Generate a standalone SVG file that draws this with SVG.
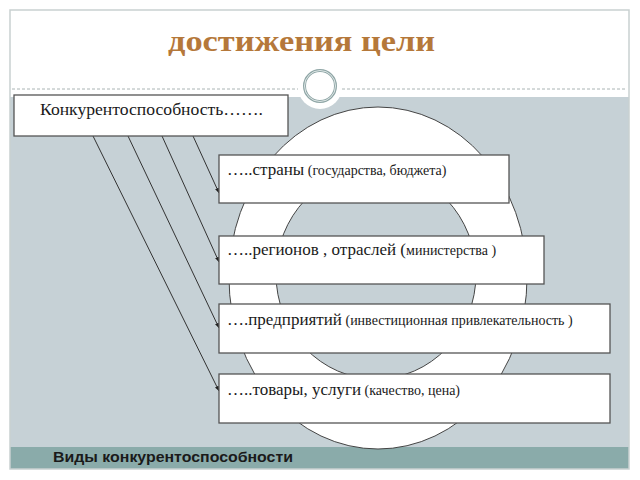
<svg xmlns="http://www.w3.org/2000/svg" width="640" height="480" viewBox="0 0 640 480">
<defs>
<style>
.box{fill:#ffffff;stroke:#555555;stroke-width:1.3}
.big{font-size:17px}
.sm{font-size:14px}
.conn{stroke:#333333;stroke-width:1;fill:none;marker-end:url(#ah)}
</style>
<marker id="ah" viewBox="0 0 10 10" refX="10" refY="5" markerWidth="5" markerHeight="5" orient="auto" markerUnits="userSpaceOnUse">
<path d="M0,1 L10,5 L0,9 z" fill="#222222"/>
</marker>
</defs>
<rect x="0" y="0" width="640" height="480" fill="#ffffff"/>
<g id="slide">
<rect x="10" y="97" width="619" height="350" fill="#c6d1d6"/>
<rect x="10" y="447" width="619" height="22" fill="#8aabaa"/>
<rect x="10" y="10" width="619" height="459" fill="none" stroke="#c9d1d1" stroke-width="1.5"/>
<line x1="12" y1="89" x2="298" y2="89" stroke="#aab4b4" stroke-width="1" stroke-dasharray="3,2"/>
<line x1="342" y1="89" x2="627" y2="89" stroke="#aab4b4" stroke-width="1" stroke-dasharray="3,2"/>
<circle cx="320" cy="87" r="22" fill="#ffffff"/>
<circle cx="320" cy="86" r="15.5" fill="#ffffff" stroke="#8fa6a6" stroke-width="3"/>
<circle cx="320" cy="86" r="15.5" fill="none" stroke="#dfe7e7" stroke-width="1"/>
<text x="168" y="51" font-family="'Liberation Serif','Times New Roman',serif" font-size="30" font-weight="bold" fill="#b5783a" textLength="267" lengthAdjust="spacingAndGlyphs">достижения цели</text>
<text x="53" y="462" font-family="'Liberation Sans',Arial,sans-serif" font-size="15" font-weight="bold" fill="#1a1a1a" textLength="240" lengthAdjust="spacingAndGlyphs">Виды конкурентоспособности</text>
</g>
<g id="ring">
<ellipse cx="378" cy="278" rx="149" ry="171" fill="#ffffff" stroke="#444444" stroke-width="1"/>
<ellipse cx="376" cy="274" rx="100" ry="105" fill="#c6d1d6" stroke="#444444" stroke-width="1"/>
</g>
<g id="connectors">
<line class="conn" x1="193" y1="136" x2="219" y2="193"/>
<line class="conn" x1="162" y1="136" x2="219" y2="262"/>
<line class="conn" x1="128" y1="136" x2="219" y2="328"/>
<line class="conn" x1="93" y1="136" x2="219" y2="391"/>
</g>
<g id="node-main">
<rect class="box" x="14" y="95" width="274" height="41"/>
<text x="40" y="115" font-family="'Liberation Serif','Times New Roman',serif" font-size="17" fill="#1a1a1a" textLength="223" lengthAdjust="spacingAndGlyphs">Конкурентоспособность…….</text>
</g>
<g id="node-country">
<rect class="box" x="219" y="155" width="290" height="48"/>
<text x="227" y="175" font-family="'Liberation Serif','Times New Roman',serif" fill="#1a1a1a"><tspan class="big">…..страны</tspan><tspan class="sm"> (государства, бюджета)</tspan></text>
</g>
<g id="node-region">
<rect class="box" x="219" y="236" width="325" height="48"/>
<text x="227" y="255" font-family="'Liberation Serif','Times New Roman',serif" fill="#1a1a1a"><tspan class="big">…..регионов , отраслей (</tspan><tspan class="sm">министерства )</tspan></text>
</g>
<g id="node-enterprise">
<rect class="box" x="219" y="304" width="391" height="49"/>
<text x="227" y="325" font-family="'Liberation Serif','Times New Roman',serif" fill="#1a1a1a"><tspan class="big">….предприятий</tspan><tspan class="sm"> (инвестиционная привлекательность )</tspan></text>
</g>
<g id="node-goods">
<rect class="box" x="219" y="374" width="391" height="49"/>
<text x="227" y="395" font-family="'Liberation Serif','Times New Roman',serif" fill="#1a1a1a"><tspan class="big">…..товары, услуги</tspan><tspan class="sm"> (качество, цена)</tspan></text>
</g>
</svg>
